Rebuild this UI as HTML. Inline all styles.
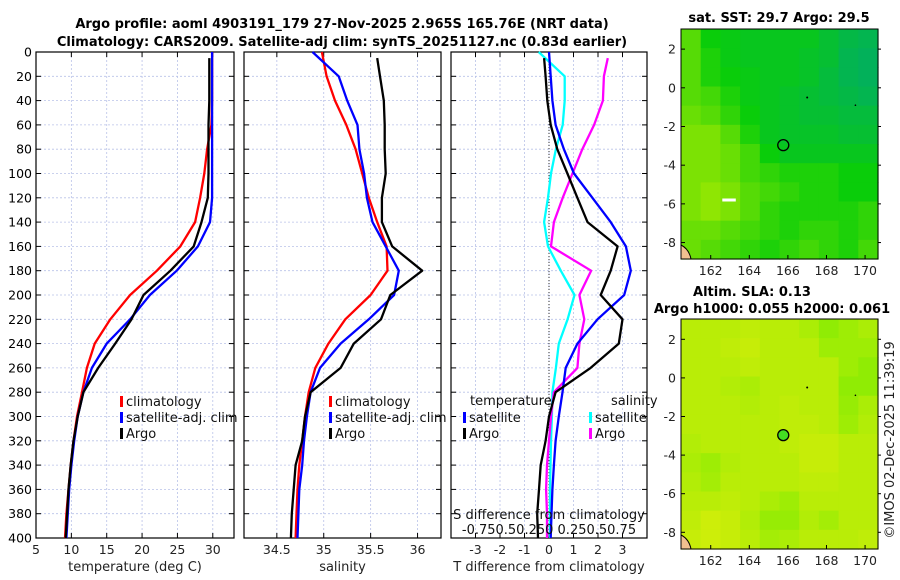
<!DOCTYPE html>
<html><head><meta charset="utf-8"><style>
body{margin:0;background:#fff;}
svg{display:block;font-family:"DejaVu Sans","Liberation Sans",sans-serif;}
</style></head><body>
<svg id="chart" width="900" height="580" viewBox="0 0 900 580" xmlns="http://www.w3.org/2000/svg">
<text x="342" y="28" font-size="13" font-weight="bold" text-anchor="middle">Argo profile: aoml 4903191_179 27-Nov-2025 2.965S 165.76E (NRT data)</text>
<text x="342" y="46" font-size="13" font-weight="bold" text-anchor="middle">Climatology: CARS2009. Satellite-adj clim: synTS_20251127.nc (0.83d earlier)</text>
<g id="g"></g>
<text x="779" y="22" font-size="13" font-weight="bold" text-anchor="middle">sat. SST: 29.7 Argo: 29.5</text>
<text x="752" y="296" font-size="13" font-weight="bold" text-anchor="middle">Altim. SLA: 0.13</text>
<text x="772" y="313" font-size="13" font-weight="bold" text-anchor="middle">Argo h1000: 0.055 h2000: 0.061</text>
<text transform="translate(894,440) rotate(-90)" font-size="13" fill="#222" text-anchor="middle">©IMOS 02-Dec-2025 11:39:19</text>
</svg>
<script>
const depths=[0,20,40,60,80,100,120,140,160,180,200,220,240,260,280,300,320,340,360,380,400];
const tempClim=[29.9,29.9,29.9,29.8,29.2,28.8,28.2,27.5,25.4,22.1,18.3,15.5,13.3,12.2,11.5,10.8,10.3,9.9,9.6,9.3,9.1];
const tempSat=[29.9,29.9,29.9,29.9,29.9,29.9,29.9,29.6,27.9,24.9,21.1,18.3,15.0,12.9,11.7,10.9,10.4,10.0,9.7,9.5,9.3];
const tempArgo=[29.5,29.5,29.5,29.4,29.4,29.4,29.3,28.4,27.3,24.0,20.2,18.5,16.2,13.8,11.7,10.9,10.3,9.9,9.6,9.4,9.2];
const salClim=[34.98,35.03,35.12,35.24,35.34,35.41,35.48,35.57,35.67,35.68,35.5,35.23,35.05,34.91,34.84,34.8,34.77,34.74,34.72,34.71,34.7];
const salSat=[34.88,35.16,35.25,35.36,35.38,35.43,35.46,35.52,35.66,35.8,35.75,35.48,35.18,34.96,34.86,34.82,34.79,34.77,34.74,34.73,34.72];
const salArgo=[35.57,35.6,35.64,35.65,35.65,35.66,35.62,35.62,35.73,36.05,35.71,35.61,35.32,35.18,34.86,34.8,34.77,34.7,34.68,34.66,34.65];
const tDiffSat=[0,0.07,0.14,0.27,0.61,1.02,1.77,2.52,3.14,3.34,3.07,1.98,1.16,0.68,0.55,0.4,0.27,0.2,0.14,0.1,0.07];
const tDiffArgo=[-0.2,-0.14,-0.07,0.07,0.34,0.75,1.16,1.57,2.8,2.52,2.11,3.0,2.85,1.7,0.27,0,-0.14,-0.34,-0.41,-0.48,-0.45];
const sDiffSat=[-0.105,0.16,0.16,0.14,0.07,0.02,-0.01,-0.05,-0.01,0.12,0.26,0.19,0.10,0.07,0.035,0.03,0.02,0.015,0.01,0.01,0.01];
const sDiffArgo=[0.6,0.56,0.55,0.46,0.34,0.24,0.14,0.05,0.02,0.43,0.31,0.36,0.31,0.29,0.05,0.02,0,-0.02,-0.03,-0.02,-0.02];
const depthTicks=[0,20,40,60,80,100,120,140,160,180,200,220,240,260,280,300,320,340,360,380,400];
const tempTicks=[5,10,15,20,25,30];
const salTicks=[34.5,35,35.5,36];
const diffTicks=[-3,-2,-1,0,1,2,3];
const lonTicks=[162,164,166,168,170];
const latTicks=[2,0,-2,-4,-6,-8];
const sstGrid=[
[0.3,0.5,0.55,0.6,0.6,0.6,0.6,0.7,0.8,0.85],
[0.3,0.45,0.55,0.6,0.6,0.6,0.65,0.7,0.85,0.9],
[0.3,0.45,0.5,0.55,0.6,0.6,0.65,0.75,0.85,0.9],
[0.3,0.35,0.45,0.55,0.6,0.65,0.7,0.75,0.8,0.85],
[0.25,0.3,0.4,0.5,0.6,0.65,0.7,0.7,0.75,0.75],
[0.2,0.2,0.3,0.45,0.6,0.65,0.65,0.65,0.7,0.7],
[0.2,0.2,0.25,0.35,0.5,0.6,0.6,0.6,0.6,0.6],
[0.2,0.2,0.25,0.35,0.4,0.45,0.45,0.45,0.5,0.5],
[0.2,0.15,0.2,0.3,0.35,0.4,0.45,0.45,0.5,0.5],
[0.2,0.15,0.2,0.3,0.4,0.45,0.45,0.45,0.45,0.4],
[0.25,0.25,0.3,0.35,0.4,0.45,0.4,0.4,0.45,0.4],
[0.25,0.3,0.35,0.4,0.45,0.4,0.35,0.4,0.45,0.35]];
const slaGrid=[
[0.3,0.3,0.3,0.25,0.3,0.3,0.4,0.6,0.5,0.4],
[0.3,0.3,0.25,0.2,0.3,0.3,0.3,0.5,0.5,0.5],
[0.3,0.3,0.3,0.25,0.3,0.3,0.3,0.3,0.5,0.6],
[0.3,0.3,0.35,0.4,0.3,0.3,0.3,0.3,0.6,0.6],
[0.3,0.3,0.3,0.35,0.3,0.25,0.3,0.3,0.55,0.4],
[0.3,0.3,0.3,0.3,0.3,0.25,0.25,0.3,0.5,0.35],
[0.35,0.3,0.3,0.3,0.3,0.25,0.2,0.2,0.3,0.3],
[0.4,0.5,0.35,0.3,0.3,0.3,0.2,0.2,0.3,0.3],
[0.35,0.45,0.3,0.3,0.3,0.3,0.25,0.25,0.3,0.3],
[0.3,0.3,0.25,0.3,0.4,0.5,0.3,0.3,0.3,0.3],
[0.25,0.15,0.2,0.35,0.55,0.55,0.35,0.45,0.3,0.3],
[0.2,0.15,0.2,0.3,0.45,0.4,0.3,0.3,0.3,0.25]];
const argoLon=165.76, argoLat=-2.965;

const NS='http://www.w3.org/2000/svg';
const G=document.getElementById('g');
function mk(tag,attrs,parent,text){const e=document.createElementNS(NS,tag);for(const k in attrs)e.setAttribute(k,attrs[k]);if(text!==undefined)e.textContent=text;(parent||G).appendChild(e);return e;}
const Y0=52,Y1=538;
const yD=d=>Y0+(d/400)*(Y1-Y0);

function panel(name,x0,x1,xmin,xmax,ticks,labelFmt,xtitle,showY){
  const xs=v=>x0+(v-xmin)/(xmax-xmin)*(x1-x0);
  const g=mk('g',{});
  
  
  depthTicks.forEach(d=>{const l=mk('line',{x1:x0,x2:x1,y1:yD(d),y2:yD(d),stroke:'#b9c2e8','stroke-width':0.8,'stroke-dasharray':'2,2'},g);
    
    mk('line',{x1:x0,x2:x0+5,y1:yD(d),y2:yD(d),stroke:'#000'},g);mk('line',{x1:x1-5,x2:x1,y1:yD(d),y2:yD(d),stroke:'#000'},g);
    if(showY){const t=mk('text',{x:x0-4,y:yD(d)+4.5,'font-size':12.5,'text-anchor':'end'},g,String(d));}
  });
  ticks.forEach(v=>{const X=xs(v);mk('line',{x1:X,x2:X,y1:Y0,y2:Y1,stroke:'#b9c2e8','stroke-width':0.8,'stroke-dasharray':'2,2'},g);
    mk('line',{x1:X,x2:X,y1:Y1,y2:Y1-5,stroke:'#000'},g);mk('line',{x1:X,x2:X,y1:Y0,y2:Y0+5,stroke:'#000'},g);
    const t=mk('text',{x:X,y:554,'font-size':12.5,'text-anchor':'middle',fill:'#222'},g,labelFmt(v));});
  const tt=mk('text',{x:(x0+x1)/2,y:571,'font-size':13,'text-anchor':'middle',fill:'#222'},g,xtitle);
  
  mk('rect',{x:x0,y:Y0,width:x1-x0,height:Y1-Y0,fill:'none',stroke:'#000','stroke-width':1.2},g);
  return {xs,g};
}
function curve(p,vals,color,name,start){
  const pts=vals.map((v,i)=>p.xs(v).toFixed(1)+','+yD(i===0&&start!==undefined?start:depths[i]).toFixed(1)).join(' ');
  const e=mk('polyline',{points:pts,fill:'none',stroke:color,'stroke-width':2.3,'stroke-linejoin':'round'},p.g);
  
}
function legend(g,x,y,color,label,name){
  mk('rect',{x:x,y:y-10,width:3,height:11,fill:color},g);
  const t=mk('text',{x:x+6,y:y,'font-size':13,fill:'#111'},g,label);
  
}
const p1=panel('temperature-panel',36,234,5,33,tempTicks,v=>String(v),'temperature (deg C)',true);
curve(p1,tempClim,'#f00','temperature-climatology-line');
curve(p1,tempSat,'#00f','temperature-satellite-line');
curve(p1,tempArgo,'#000','temperature-argo-line',5);
legend(p1.g,120,406,'#f00','climatology','legend-climatology');
legend(p1.g,120,422,'#00f','satellite-adj. clim','legend-satellite');
legend(p1.g,120,438,'#000','Argo','legend-argo');
const p2=panel('salinity-panel',244,441,34.15,36.25,salTicks,v=>String(v),'salinity',false);
curve(p2,salClim,'#f00','salinity-climatology-line');
curve(p2,salSat,'#00f','salinity-satellite-line');
curve(p2,salArgo,'#000','salinity-argo-line',5);
legend(p2.g,329,406,'#f00','climatology','legend-climatology');
legend(p2.g,329,422,'#00f','satellite-adj. clim','legend-satellite');
legend(p2.g,329,438,'#000','Argo','legend-argo');
const p3=panel('difference-panel',451,647,-4,4,diffTicks,v=>String(v),'T difference from climatology',false);
mk('line',{x1:p3.xs(0),x2:p3.xs(0),y1:Y0,y2:Y1,stroke:'#333','stroke-width':1,'stroke-dasharray':'1,2'},p3.g);
const sx={xs:v=>p3.xs(v*4)};sx.g=p3.g;
curve(sx,sDiffSat,'#0ff','salinity-diff-satellite-line');
curve(sx,sDiffArgo,'#f0f','salinity-diff-argo-line',5);
curve(p3,tDiffSat,'#00f','temperature-diff-satellite-line');
curve(p3,tDiffArgo,'#000','temperature-diff-argo-line',5);
let t1=mk('text',{x:470,y:405,'font-size':13,fill:'#111'},p3.g,'temperature');
let t2=mk('text',{x:611,y:405,'font-size':13,fill:'#111'},p3.g,'salinity');
legend(p3.g,463,422,'#00f','satellite','legend-t-satellite');
legend(p3.g,463,438,'#000','Argo','legend-t-argo');
legend(p3.g,589,422,'#0ff','satellite','legend-s-satellite');
legend(p3.g,589,438,'#f0f','Argo','legend-s-argo');
let s1=mk('text',{x:549,y:519,'font-size':13,'text-anchor':'middle',fill:'#111'},p3.g,'S difference from climatology');
let s2=mk('text',{x:549,y:534,'font-size':13,'text-anchor':'middle',fill:'#111'},p3.g,'-0.750.50.250 0.250.50.75');

const MX0=681,MX1=878,LON0=160.46,LON1=170.67;
function mapPanel(name,top,bottom,lat0,lat1,grid,colorFn,filled){
  const xs=v=>MX0+(v-LON0)/(LON1-LON0)*(MX1-MX0);
  const ys=v=>top+(lat0-v)/(lat0-lat1)*(bottom-top);
  const g=mk('g',{});
  
  
  const rows=grid.length,cols=grid[0].length,cw=(MX1-MX0)/cols,ch=(bottom-top)/rows;
  grid.forEach((row,r)=>row.forEach((v,c)=>{mk('rect',{x:MX0+c*cw,y:top+r*ch,width:cw+0.6,height:ch+0.6,fill:colorFn(v)},g);}));
  mk('path',{d:`M${MX0},${bottom-14} q8,4 10,14 h-10 z`,fill:'#f0c090',stroke:'#000','stroke-width':1},g);
  mk('circle',{cx:xs(167),cy:ys(-0.5),r:1,fill:'#000'},g);
  mk('circle',{cx:xs(169.5),cy:ys(-0.9),r:0.8,fill:'#000'},g);
  const m=mk('circle',{cx:xs(argoLon),cy:ys(argoLat),r:5.5,fill:filled?'#44dd22':'none',stroke:'#000','stroke-width':1.3},g);
  
  mk('rect',{x:MX0,y:top,width:MX1-MX0,height:bottom-top,fill:'none',stroke:'#000','stroke-width':1},g);
  lonTicks.forEach(v=>{const X=xs(v);mk('line',{x1:X,x2:X,y1:bottom,y2:bottom-4,stroke:'#000'},g);
    const t=mk('text',{x:X,y:bottom+16,'font-size':12.5,'text-anchor':'middle',fill:'#222'},g,String(v));});
  latTicks.forEach(v=>{const Y=ys(v);mk('line',{x1:MX0,x2:MX0+4,y1:Y,y2:Y,stroke:'#000'},g);mk('line',{x1:MX1,x2:MX1+3,y1:Y,y2:Y,stroke:'#000'},g);
    const t=mk('text',{x:MX0-5,y:Y+4.5,'font-size':12.5,'text-anchor':'end',fill:'#222'},g,String(v));});
  return {g,xs,ys};
}
function lerpC(a,b,t){return 'rgb('+a.map((x,i)=>Math.round(x+(b[i]-x)*t)).join(',')+')';}
function sstColor(v){return v<0.5?lerpC([200,240,0],[10,205,10],v/0.5):lerpC([10,205,10],[0,170,110],(v-0.5)/0.5);}
function slaColor(v){return lerpC([225,238,10],[90,235,0],v);}
const mTop=mapPanel('sst-map',29,259,3.04,-8.85,sstGrid,sstColor,false);
mk('rect',{x:mTop.xs(162.6),y:mTop.ys(-5.8)-1.5,width:mTop.xs(163.3)-mTop.xs(162.6),height:3,fill:'#fff'},mTop.g);
mapPanel('sla-map',319,549,2+20.3/19.3,-8-16.7/19.3,slaGrid,slaColor,true);
</script>
</body></html>
